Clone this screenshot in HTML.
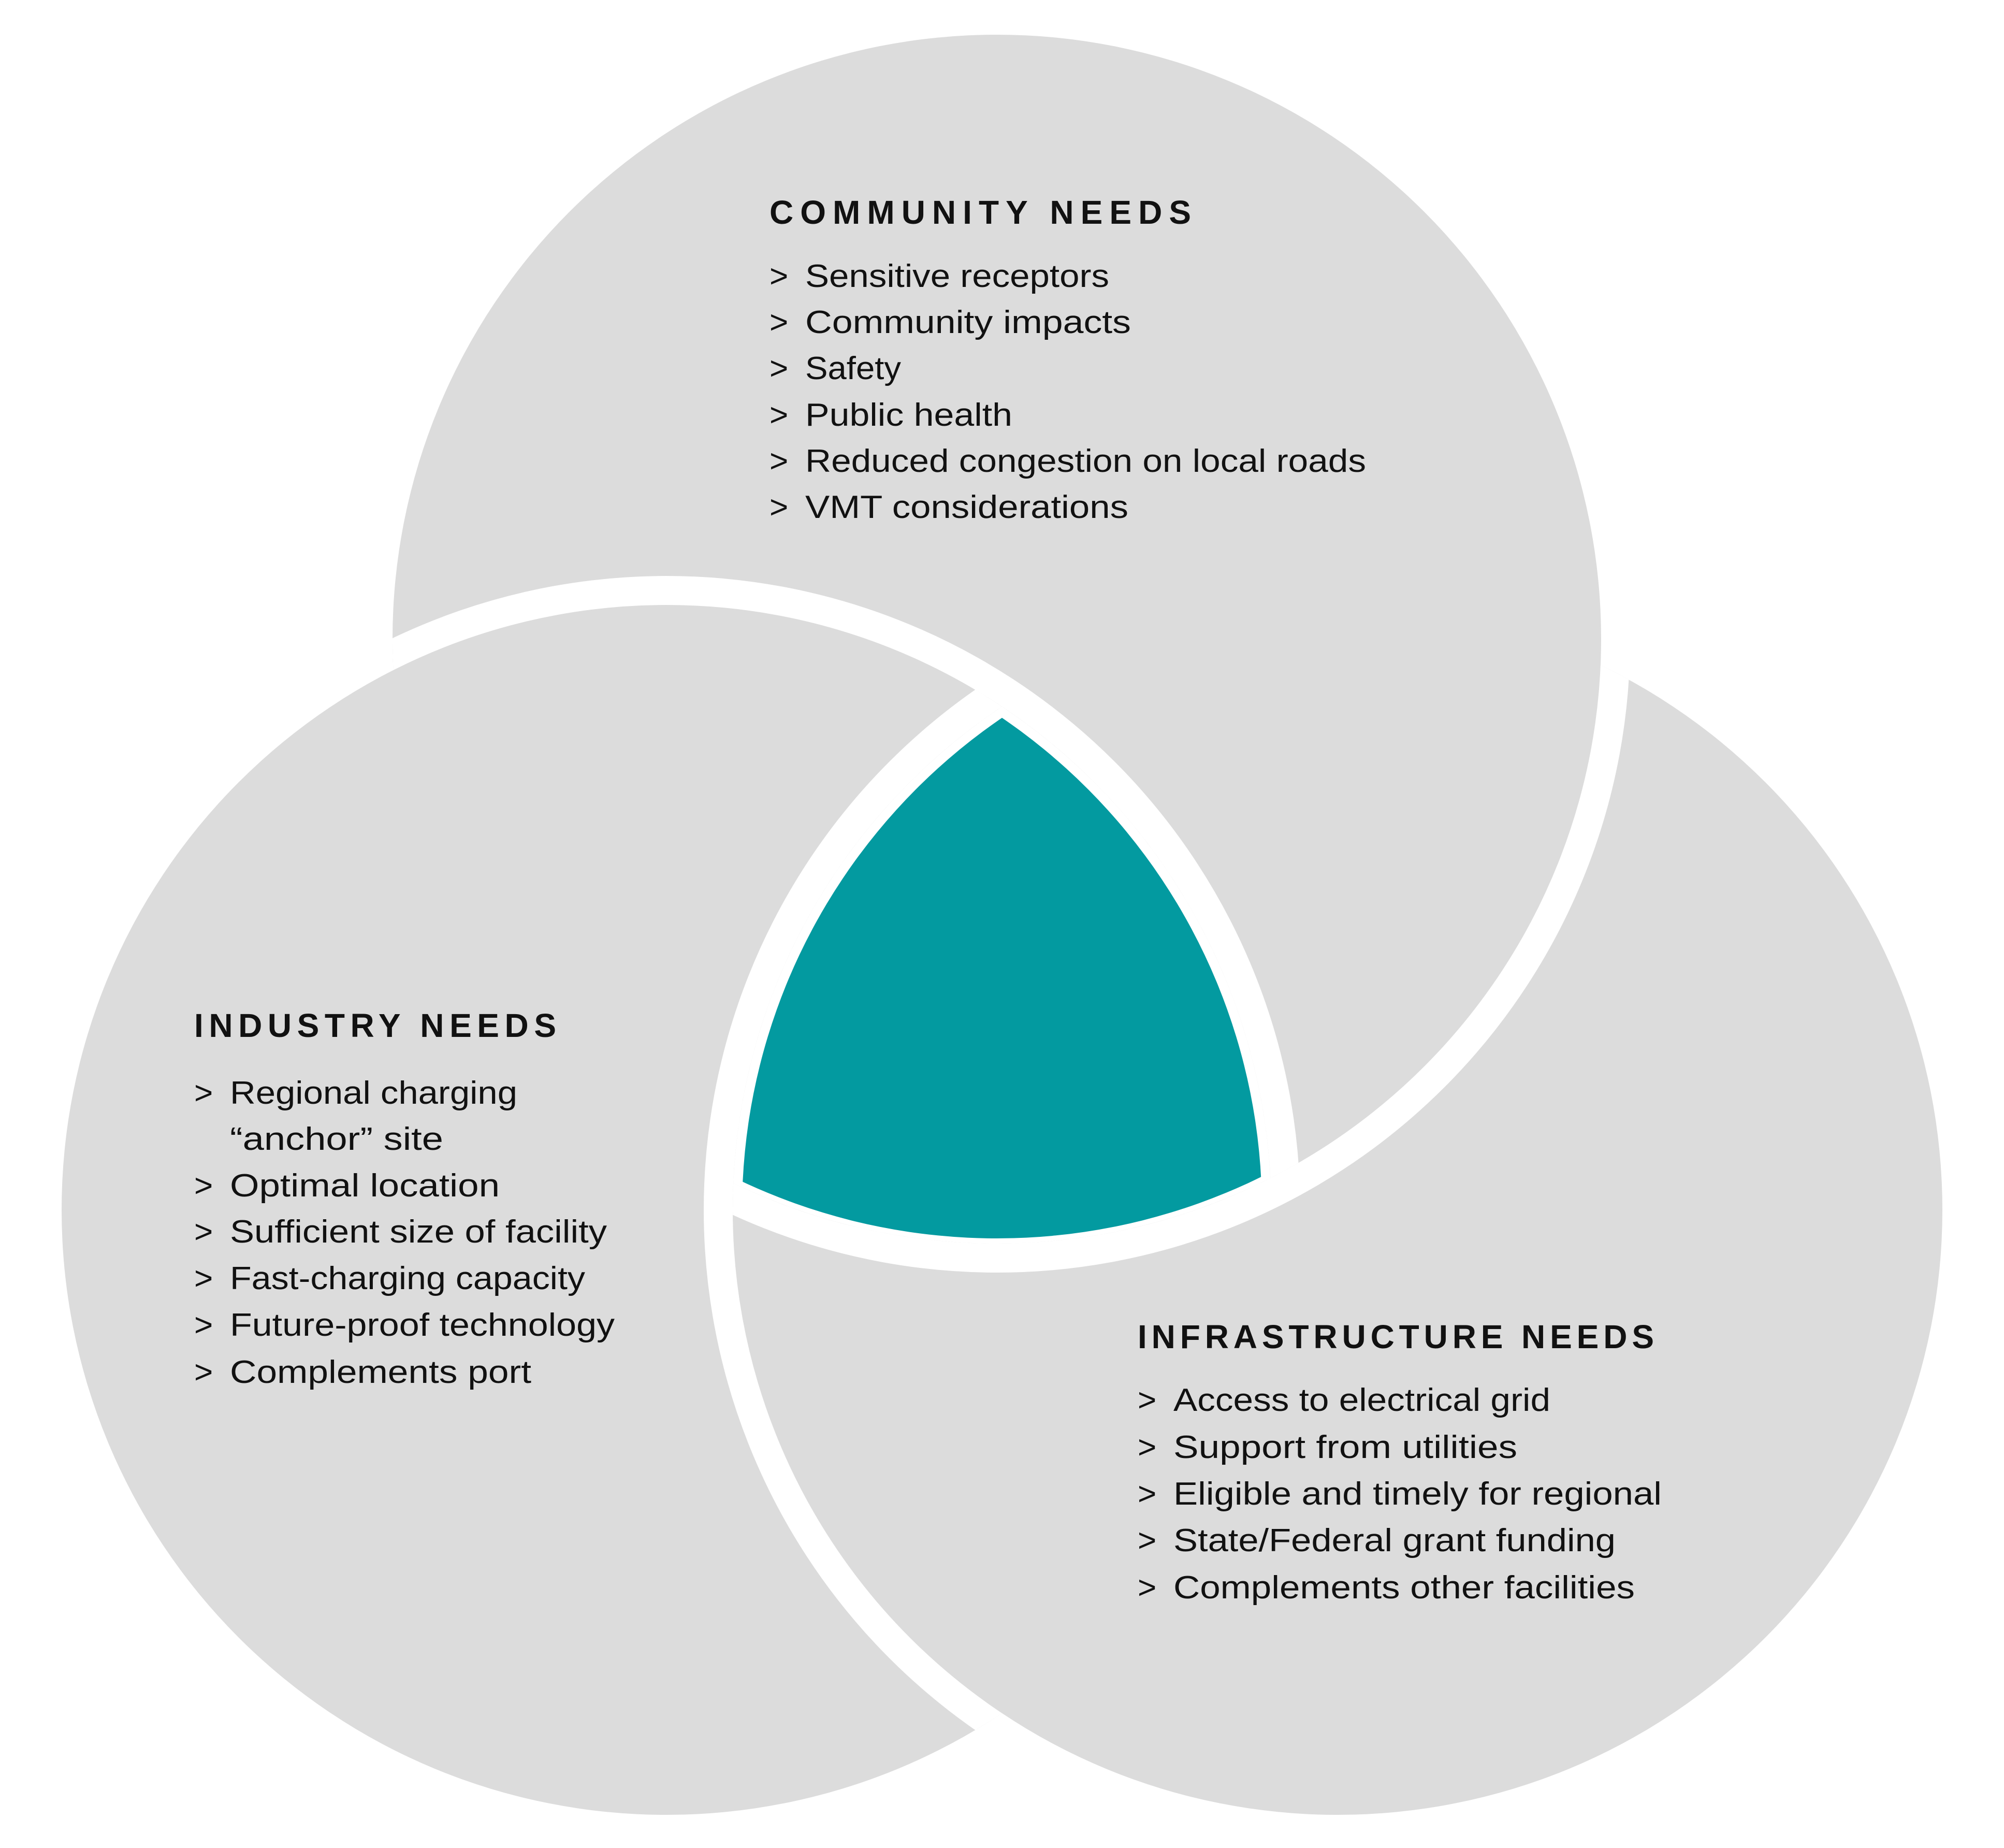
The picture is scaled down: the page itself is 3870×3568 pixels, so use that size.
<!DOCTYPE html>
<html><head><meta charset="utf-8"><style>html,body{margin:0;padding:0;background:#fff}svg{display:block}</style></head>
<body>
<svg width="3870" height="3568" viewBox="0 0 3870 3568" xmlns="http://www.w3.org/2000/svg">
<defs>
<clipPath id="cC"><circle cx="1925" cy="1234" r="1167"/></clipPath>
<clipPath id="cI"><circle cx="1287" cy="2336" r="1168"/></clipPath>
<clipPath id="cF"><circle cx="2583" cy="2336" r="1168"/></clipPath>
<clipPath id="tC"><circle cx="1925" cy="1234" r="1157"/></clipPath>
<clipPath id="tI"><circle cx="1287" cy="2336" r="1150"/></clipPath>
<clipPath id="tF"><circle cx="2583" cy="2336" r="1150"/></clipPath>
</defs>
<rect width="3870" height="3568" fill="#fff"/>
<g fill="#dcdcdc">
<circle cx="1925" cy="1234" r="1167"/>
<circle cx="1287" cy="2336" r="1168"/>
<circle cx="2583" cy="2336" r="1168"/>
</g>
<g fill="none" stroke="#fff" stroke-width="56">
<circle cx="1287" cy="2336" r="1196" clip-path="url(#cC)"/>
<circle cx="1925" cy="1234" r="1195" clip-path="url(#cF)"/>
<circle cx="2583" cy="2336" r="1196" clip-path="url(#cI)"/>
</g>
<g clip-path="url(#cC)"><g clip-path="url(#cI)"><rect x="0" y="0" width="3870" height="3568" fill="#fff" clip-path="url(#cF)"/></g></g>
<g clip-path="url(#tC)"><g clip-path="url(#tI)"><rect x="0" y="0" width="3870" height="3568" fill="#039aa0" clip-path="url(#tF)"/></g></g>
<g font-family="Liberation Sans, sans-serif" fill="#111">
<g font-weight="bold" font-size="64">
<text x="1486" y="432" textLength="814" lengthAdjust="spacing">COMMUNITY NEEDS</text>
<text x="375" y="2002" textLength="699" lengthAdjust="spacing">INDUSTRY NEEDS</text>
<text x="2197" y="2603" textLength="997" lengthAdjust="spacing">INFRASTRUCTURE NEEDS</text>
</g>
<g font-size="62">
<text x="1486" y="554">&gt;</text><text x="1555" y="554" textLength="587" lengthAdjust="spacingAndGlyphs">Sensitive receptors</text>
<text x="1486" y="643">&gt;</text><text x="1555" y="643" textLength="629" lengthAdjust="spacingAndGlyphs">Community impacts</text>
<text x="1486" y="732">&gt;</text><text x="1555" y="732" textLength="185" lengthAdjust="spacingAndGlyphs">Safety</text>
<text x="1486" y="822">&gt;</text><text x="1555" y="822" textLength="400" lengthAdjust="spacingAndGlyphs">Public health</text>
<text x="1486" y="911">&gt;</text><text x="1555" y="911" textLength="1083" lengthAdjust="spacingAndGlyphs">Reduced congestion on local roads</text>
<text x="1486" y="1000">&gt;</text><text x="1555" y="1000" textLength="624" lengthAdjust="spacingAndGlyphs">VMT considerations</text>

<text x="375" y="2131">&gt;</text><text x="444" y="2131" textLength="555" lengthAdjust="spacingAndGlyphs">Regional charging</text>
<text x="444" y="2220" textLength="412" lengthAdjust="spacingAndGlyphs">“anchor” site</text>
<text x="375" y="2310">&gt;</text><text x="444" y="2310" textLength="521" lengthAdjust="spacingAndGlyphs">Optimal location</text>
<text x="375" y="2399">&gt;</text><text x="444" y="2399" textLength="728" lengthAdjust="spacingAndGlyphs">Sufficient size of facility</text>
<text x="375" y="2489">&gt;</text><text x="444" y="2489" textLength="686" lengthAdjust="spacingAndGlyphs">Fast-charging capacity</text>
<text x="375" y="2579">&gt;</text><text x="444" y="2579" textLength="743" lengthAdjust="spacingAndGlyphs">Future-proof technology</text>
<text x="375" y="2670">&gt;</text><text x="444" y="2670" textLength="582" lengthAdjust="spacingAndGlyphs">Complements port</text>

<text x="2197" y="2724">&gt;</text><text x="2266" y="2724" textLength="728" lengthAdjust="spacingAndGlyphs">Access to electrical grid</text>
<text x="2197" y="2815">&gt;</text><text x="2266" y="2815" textLength="664" lengthAdjust="spacingAndGlyphs">Support from utilities</text>
<text x="2197" y="2905">&gt;</text><text x="2266" y="2905" textLength="943" lengthAdjust="spacingAndGlyphs">Eligible and timely for regional</text>
<text x="2197" y="2995">&gt;</text><text x="2266" y="2995" textLength="854" lengthAdjust="spacingAndGlyphs">State/Federal grant funding</text>
<text x="2197" y="3086">&gt;</text><text x="2266" y="3086" textLength="891" lengthAdjust="spacingAndGlyphs">Complements other facilities</text>
</g>
</g>
</svg>
</body></html>
